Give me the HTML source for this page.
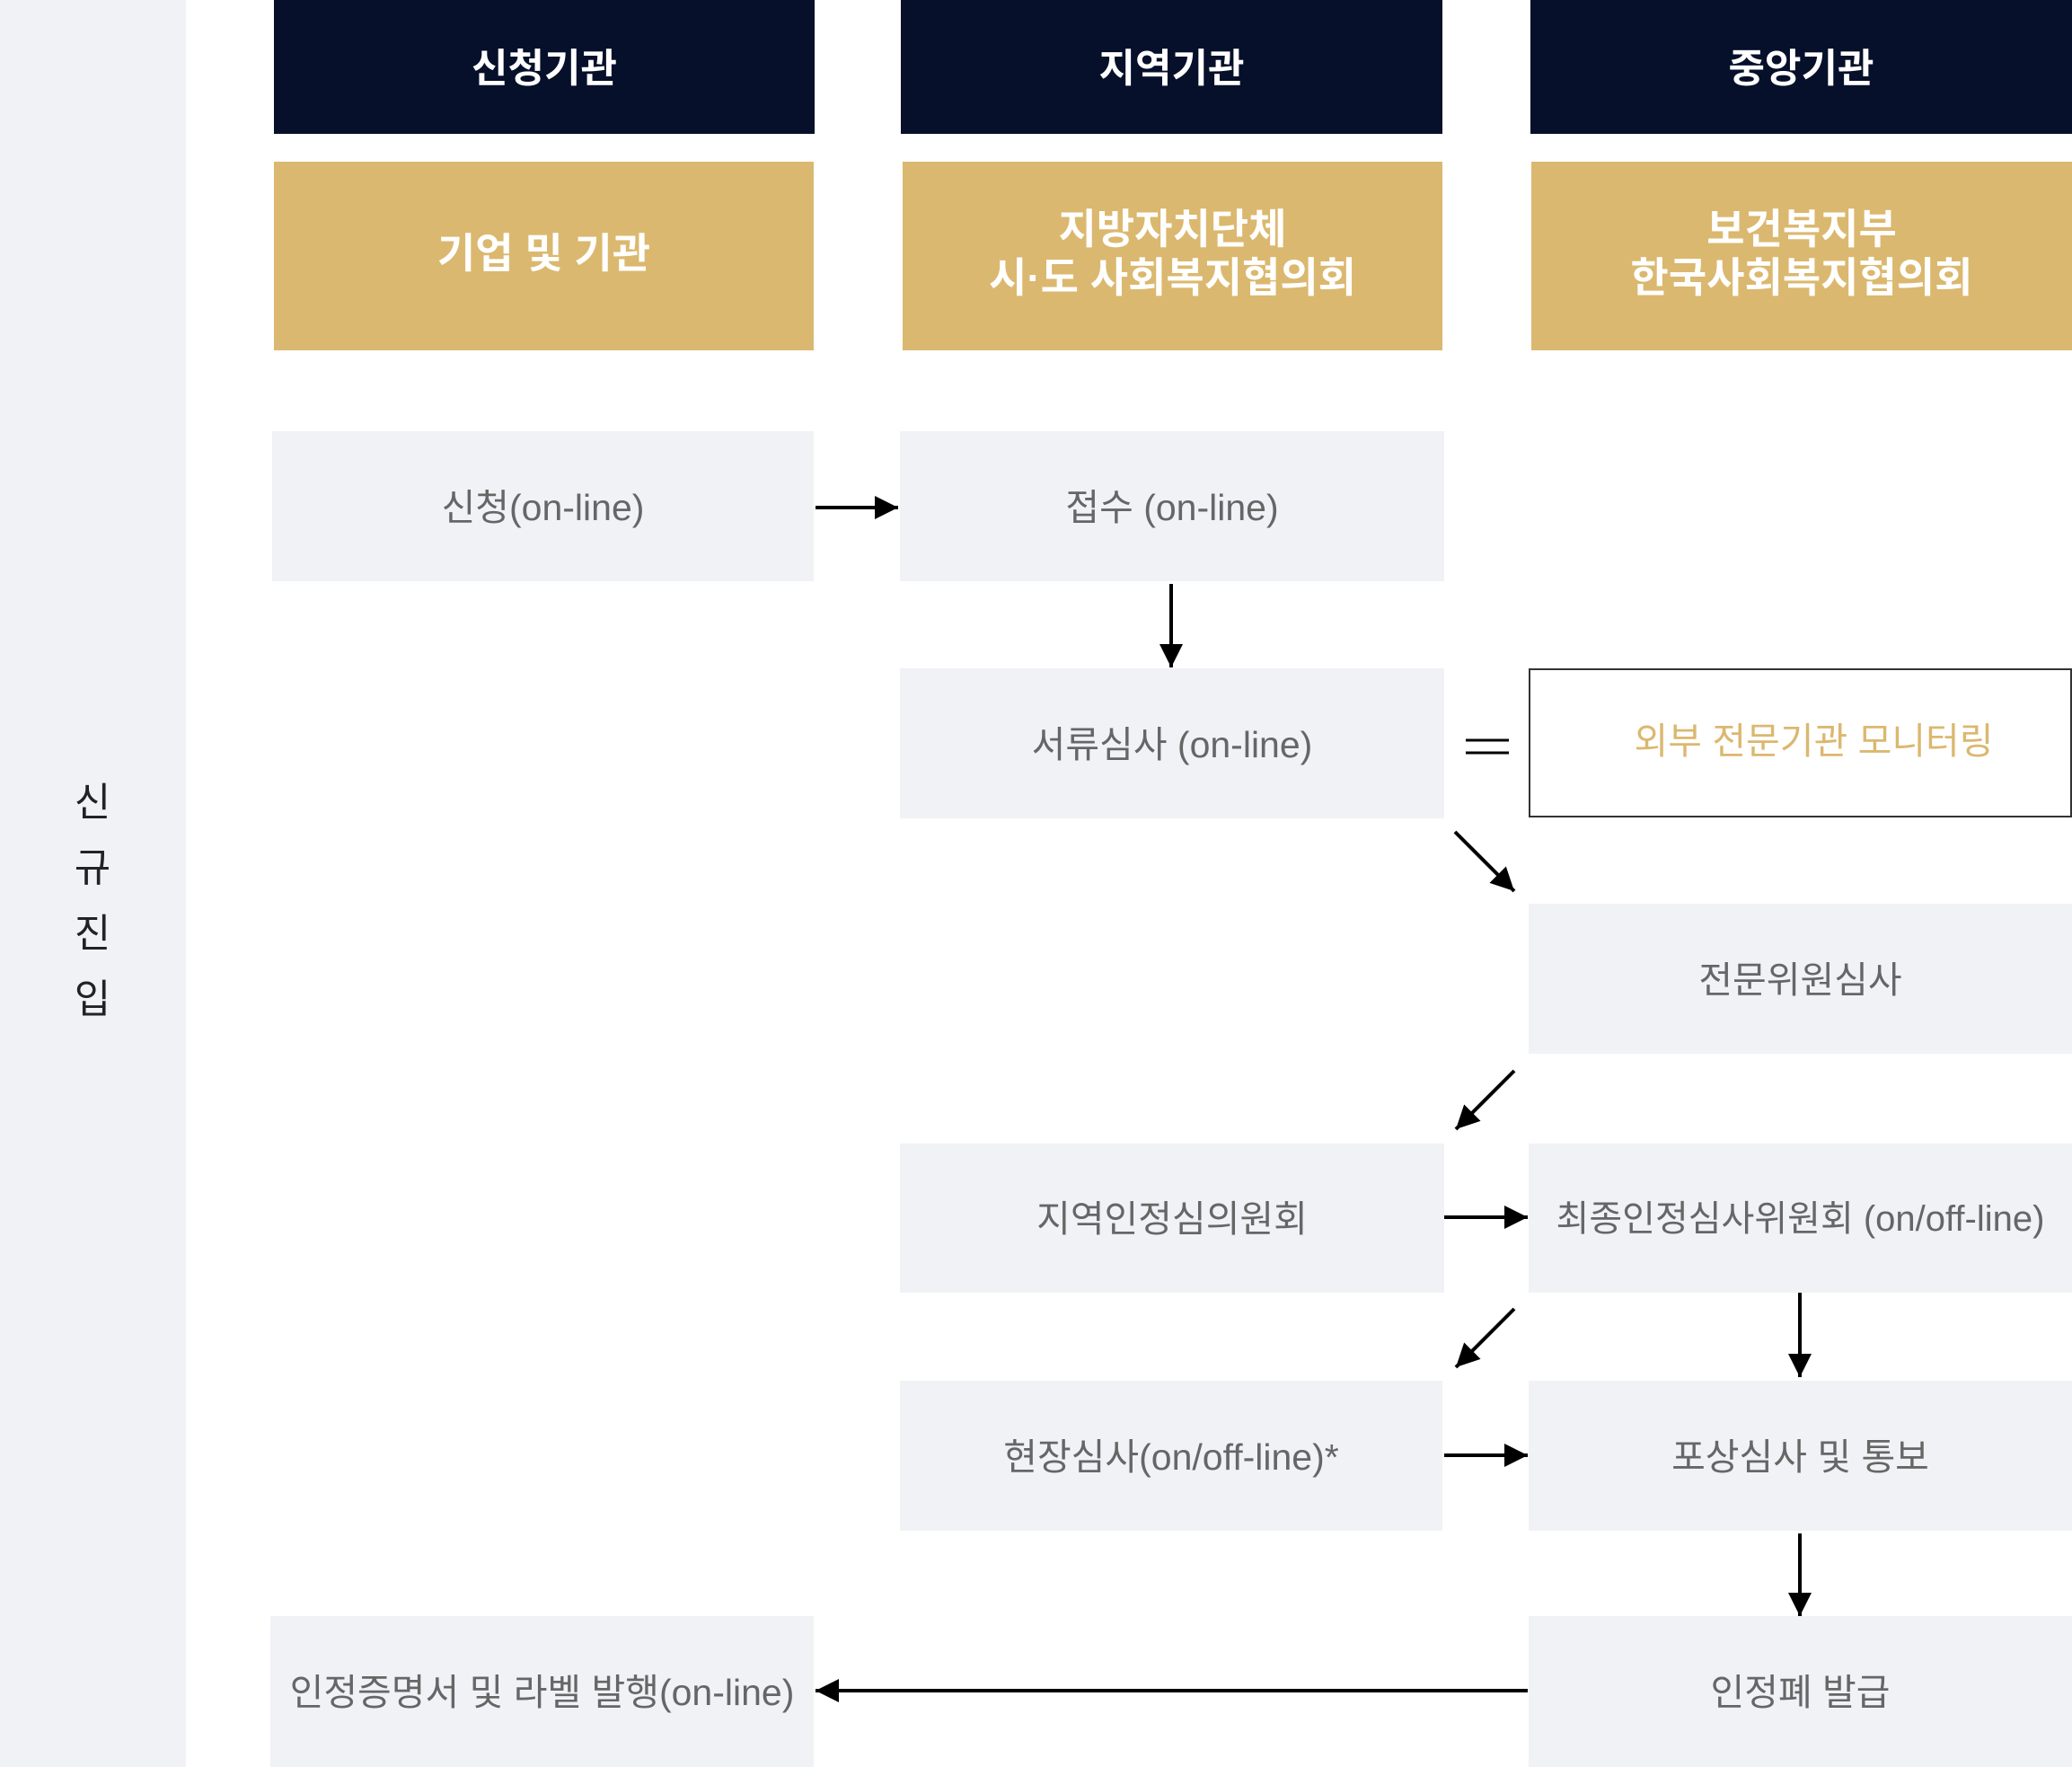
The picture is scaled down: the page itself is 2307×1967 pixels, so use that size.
<!DOCTYPE html>
<html><head><meta charset="utf-8"><style>
body{margin:0;width:2307px;height:1967px;position:relative;background:#fff;overflow:hidden;font-family:"Liberation Sans","Noto Sans CJK KR",sans-serif}
.b{position:absolute;display:flex;align-items:center;justify-content:center;text-align:center;box-sizing:border-box;padding-bottom:6px}
.h{background:#06102b;color:#fff;font-weight:bold;font-size:44px}
.g{background:#dbb86f;color:#fff;font-weight:bold;font-size:46px;line-height:54px}
.p{background:#f1f2f6;color:#666;font-size:41px}
svg{position:absolute;left:0;top:0}
</style></head><body>
<div class="b" style="left:0;top:0;width:207px;height:1967px;background:#f1f2f6"></div>
<div class="b" style="left:60px;top:866px;width:86px;height:280px;flex-direction:column;font-size:44px;color:#222;line-height:73px">신<br>규<br>진<br>입</div>

<div class="b h" style="left:305px;top:0;width:602px;height:149px">신청기관</div>
<div class="b h" style="left:1003px;top:0;width:603px;height:149px">지역기관</div>
<div class="b h" style="left:1704px;top:0;width:603px;height:149px">중앙기관</div>

<div class="b g" style="left:305px;top:180px;width:601px;height:210px">기업 및 기관</div>
<div class="b g" style="left:1005px;top:180px;width:601px;height:210px">지방자치단체<br>시·도 사회복지협의회</div>
<div class="b g" style="left:1705px;top:180px;width:602px;height:210px">보건복지부<br>한국사회복지협의회</div>

<div class="b p" style="left:303px;top:480px;width:603px;height:167px">신청(on-line)</div>
<div class="b p" style="left:1002px;top:480px;width:606px;height:167px">접수 (on-line)</div>
<div class="b p" style="left:1002px;top:744px;width:606px;height:167px">서류심사 (on-line)</div>
<div class="b" style="left:1702px;top:744px;width:605px;height:166px;border:2px solid #333;color:#dbb86f;font-size:41px;padding-left:30px;padding-bottom:12px">외부 전문기관 모니터링</div>
<div class="b p" style="left:1702px;top:1006px;width:605px;height:167px">전문위원심사</div>
<div class="b p" style="left:1002px;top:1273px;width:606px;height:166px">지역인정심의원회</div>
<div class="b p" style="left:1702px;top:1273px;width:605px;height:166px;font-size:40px">최종인정심사위원회 (on/off-line)</div>
<div class="b p" style="left:1002px;top:1537px;width:604px;height:167px">현장심사(on/off-line)*</div>
<div class="b p" style="left:1702px;top:1537px;width:605px;height:167px">포상심사 및 통보</div>
<div class="b p" style="left:301px;top:1799px;width:605px;height:168px">인정증명서 및 라벨 발행(on-line)</div>
<div class="b p" style="left:1702px;top:1799px;width:605px;height:168px">인정폐 발급</div>

<svg width="2307" height="1967">
<defs>
<marker id="m" markerWidth="26" markerHeight="26" refX="26" refY="13" orient="auto" markerUnits="userSpaceOnUse"><path d="M0,0L26,13L0,26z" fill="#000"/></marker></defs>
<g stroke="#000" stroke-width="4" fill="none" marker-end="url(#m)">
<line x1="908" y1="565" x2="1000" y2="565"/>
<line x1="1304" y1="650" x2="1304" y2="743"/>
<line x1="1620" y1="926" x2="1686" y2="992"/>
<line x1="1686" y1="1192" x2="1621" y2="1257"/>
<line x1="1608" y1="1355" x2="1701" y2="1355"/>
<line x1="2004" y1="1439" x2="2004" y2="1533"/>
<line x1="1686" y1="1457" x2="1621" y2="1522"/>
<line x1="1608" y1="1620" x2="1701" y2="1620"/>
<line x1="2004" y1="1707" x2="2004" y2="1799"/>
<line x1="1701" y1="1882" x2="908" y2="1882"/>
</g>
<g stroke="#000" stroke-width="3"><line x1="1632" y1="824" x2="1680" y2="824"/><line x1="1632" y1="838" x2="1680" y2="838"/></g>
</svg>
</body></html>
